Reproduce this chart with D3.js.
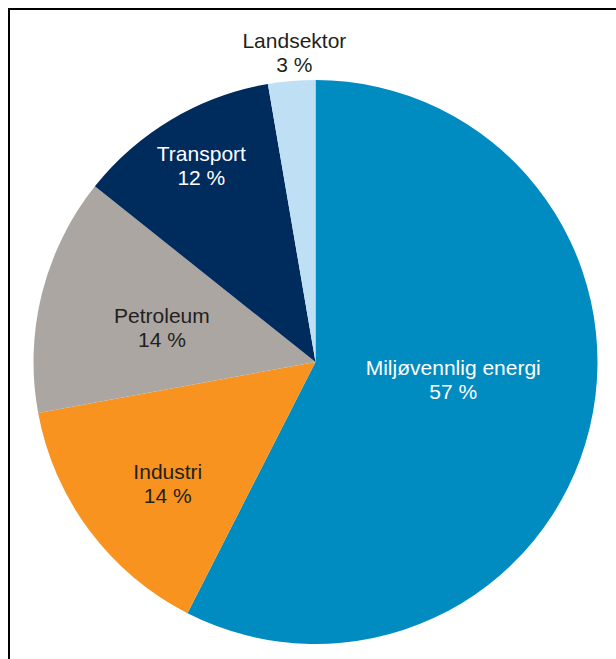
<!DOCTYPE html>
<html>
    <head>
        <meta charset="UTF-8">
        <script src="https://d3js.org/d3.v7.min.js"></script>
        <style>
            body { margin: 0; background: #fff; }
            text { font-family: "Liberation Sans", Arial, sans-serif; font-size: 21px; }
        </style>
    </head>
    <body>
        <div id="chart"></div>
        <script type="text/javascript">
            // data (slice sizes from the angles, labels as printed)
            var categories = ["Miljøvennlig energi", "Industri", "Petroleum", "Transport", "Landsektor"];
            var shares = [57.5, 14.6, 13.6, 11.6, 2.7];
            var pctLabels = ["57 %", "14 %", "14 %", "12 %", "3 %"];

            var colours = ["#008cc1", "#f7931e", "#aba6a2", "#002c5d", "#bfe0f4"];
            var textColours = ["#ffffff", "#231f20", "#231f20", "#ffffff", "#231f20"];
            // label anchor: [radius, angle in degrees clockwise from top]
            var labelPolar = [[140, 100.3], [196, 228.9], [156, 280.1], [221, 328.9], [303, 356]];

            var width = 616;
            var height = 659;
            var cx = 315.5;
            var cy = 362;
            var radius = 282;

            var svg = d3.select("#chart")
                .append("svg")
                .attr("width", width)
                .attr("height", height);

            // frame (only top and left edge visible)
            svg.append("rect").attr("x", 8).attr("y", 8).attr("width", width - 8).attr("height", 2).attr("fill", "#000");
            svg.append("rect").attr("x", 8).attr("y", 8).attr("width", 2).attr("height", height - 8).attr("fill", "#000");

            var color = d3.scaleOrdinal().domain(categories).range(colours);

            var pie = d3.pie().sort(null).value(d => d);
            var arcs = pie(shares);

            var arc = d3.arc().innerRadius(0).outerRadius(radius);

            var g = svg.append("g")
                .attr("transform", "translate(" + cx + "," + cy + ")");

            g.selectAll("path.slice")
                .data(arcs)
                .enter()
                .append("path")
                .attr("class", "slice")
                .attr("d", arc)
                .attr("fill", (d, i) => color(categories[i]));

            var labels = g.selectAll("text.lbl")
                .data(arcs)
                .enter()
                .append("text")
                .attr("class", "lbl")
                .attr("text-anchor", "middle")
                .attr("fill", (d, i) => textColours[i])
                .attr("transform", function (d, i) {
                    var r = labelPolar[i][0];
                    var a = labelPolar[i][1] * Math.PI / 180;
                    return "translate(" + (r * Math.sin(a)) + "," + (-r * Math.cos(a)) + ")";
                });

            labels.append("tspan")
                .attr("x", 0)
                .attr("y", -12)
                .text((d, i) => categories[i]);

            labels.append("tspan")
                .attr("x", 0)
                .attr("y", 12)
                .text((d, i) => pctLabels[i]);
        </script>
    </body>
</html>
